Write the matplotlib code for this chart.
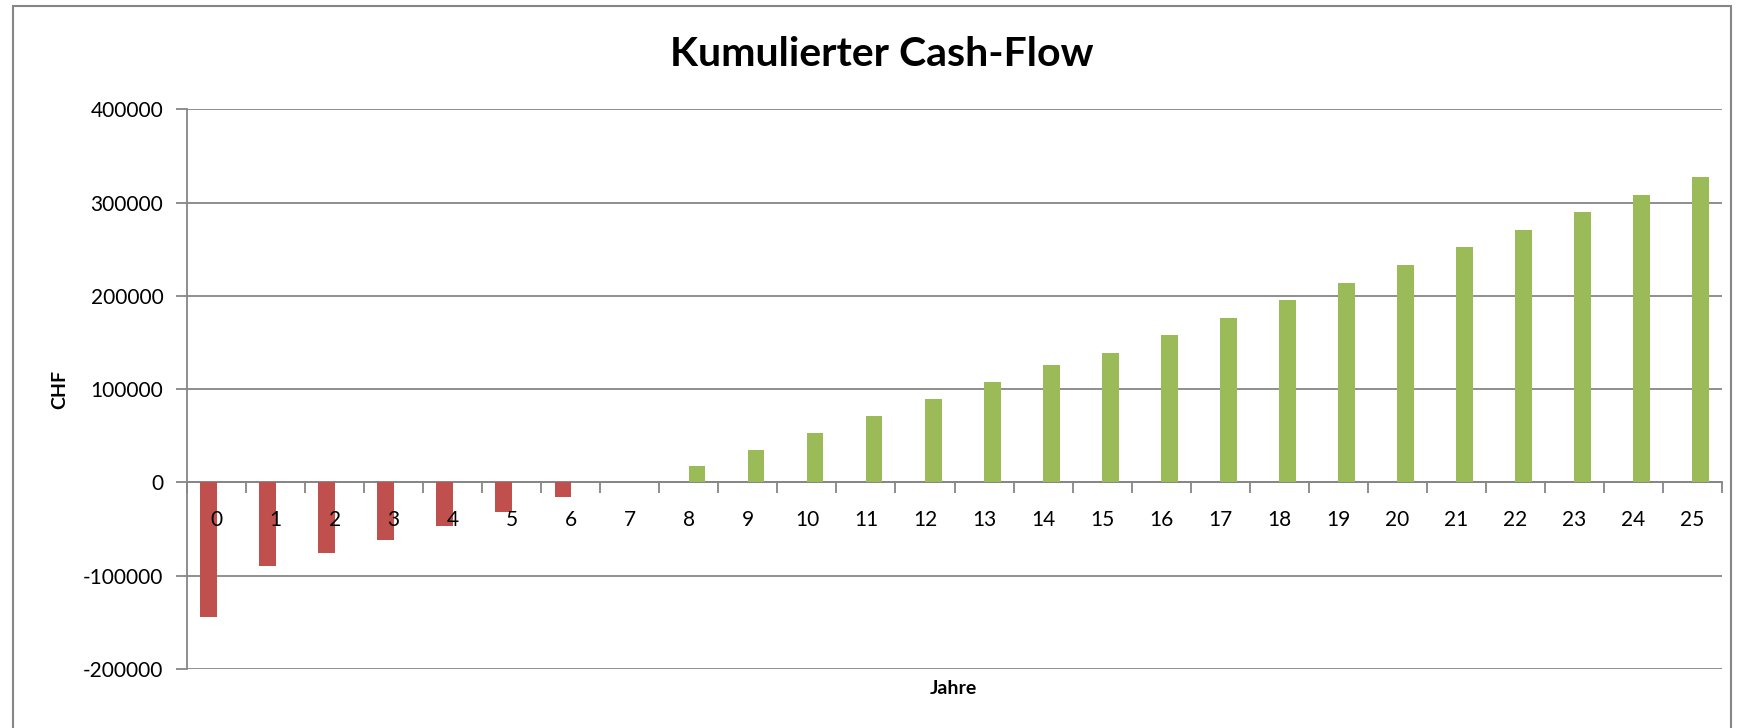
import matplotlib.pyplot as plt
from matplotlib.patches import Rectangle
import numpy as np

plt.rcParams['font.family'] = ['Lato', 'DejaVu Sans']

jahre = list(range(0, 26))
# negative kumulierte Werte (Jahr 0-6)
negativ = [-144600, -89900, -76000, -61200, -47000, -31200, -15500,
           0, 0, 0, 0, 0, 0, 0, 0, 0, 0, 0, 0, 0, 0, 0, 0, 0, 0, 0]
# positive kumulierte Werte (ab Jahr 7)
positiv = [0, 0, 0, 0, 0, 0, 0,
           300, 17700, 34900, 53100, 71400, 89600, 107800, 126200, 139400,
           158100, 176700, 195300, 214300, 233100, 252100, 270700, 289600,
           308500, 327100]
yticks = [-200000, -100000, 0, 100000, 200000, 300000, 400000]

grau = '#868686'
rot = '#C0504D'
gruen = '#9BBB59'

fig = plt.figure(figsize=(17.38, 7.28), dpi=100)
ax = fig.add_axes([187/1738, 1-669/728, (1722-187)/1738, (669-109.5)/728])

x = np.arange(len(jahre))
ax.bar(x - 0.135, negativ, width=0.28, color=rot, zorder=3)
ax.bar(x + 0.14, positiv, width=0.28, color=gruen, zorder=3)

ax.set_xlim(-0.5, 25.5)
ax.set_ylim(-200000, 400000)
ax.set_yticks(yticks)
ax.set_yticklabels([str(v) for v in yticks], fontsize=15)
ax.yaxis.grid(True, color=grau, linewidth=1.3, zorder=0)

# Ticks zwischen den Kategorien, Beschriftung in der Mitte (über den Balken)
ax.set_xticks(np.arange(-0.5, 26, 1))
ax.set_xticklabels([])
for j in jahre:
    ax.annotate(str(j), (j, 0), xytext=(0, -20), textcoords='offset points',
                ha='center', va='top', fontsize=15, zorder=5)
ax.tick_params(axis='x', which='major', length=8, width=1.3, color=grau, direction='out')
ax.tick_params(axis='y', length=8, width=1.3, color=grau, direction='out', pad=9)

ax.spines['bottom'].set_position(('data', 0))
ax.spines['bottom'].set_color(grau)
ax.spines['bottom'].set_linewidth(1.3)
ax.spines['left'].set_color(grau)
ax.spines['left'].set_linewidth(1.3)
ax.spines['top'].set_visible(False)
ax.spines['right'].set_visible(False)

fig.text(882/1738, 1-55/728, 'Kumulierter Cash-Flow', fontsize=29.5, fontweight='bold',
         ha='center', va='center')
fig.text(60/1738, 1-389/728, 'CHF', fontsize=14, fontweight='bold', rotation=90,
         ha='center', va='center')
fig.text(953/1738, 1-689/728, 'Jahre', fontsize=14, fontweight='bold',
         ha='center', va='center')

# Rahmen um das Diagramm
fig.patches.append(Rectangle((13/1738, -0.1), (1731-13)/1738, 1.1 - 6/728,
                             transform=fig.transFigure, fill=False,
                             edgecolor=grau, linewidth=1.5))

plt.savefig('out.png', dpi=100)
